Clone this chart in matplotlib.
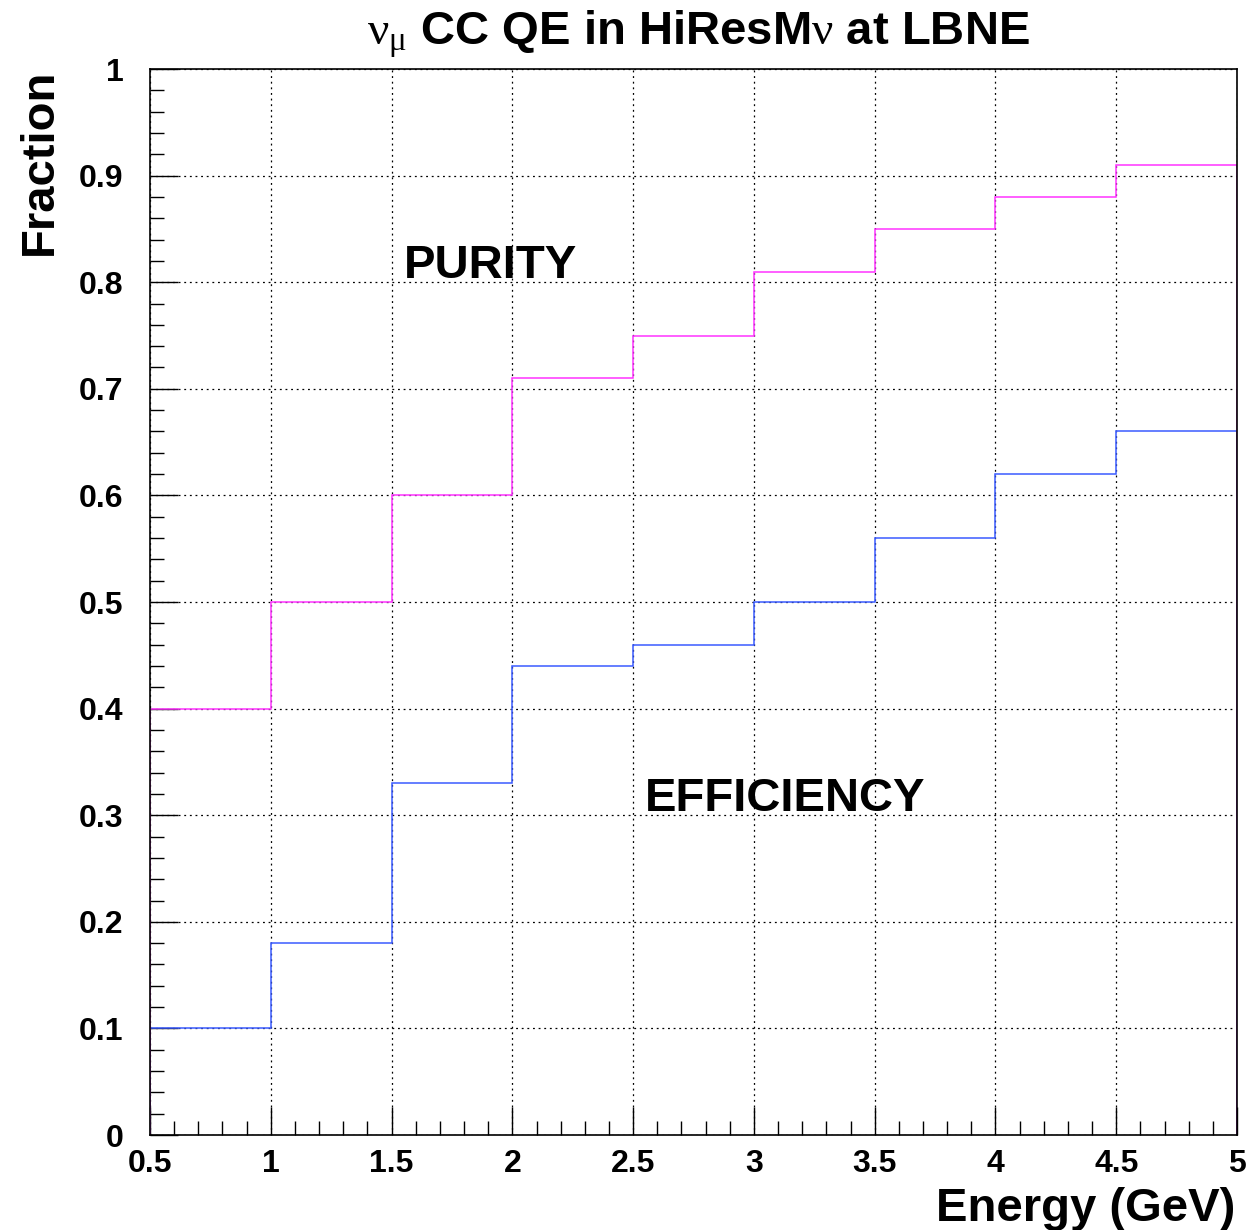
import numpy as np
import matplotlib.pyplot as plt
from matplotlib.ticker import MultipleLocator

# bin edges and fractions per energy bin
edges = [0.5, 1.0, 1.5, 2.0, 2.5, 3.0, 3.5, 4.0, 4.5, 5.0]
purity = [0.40, 0.50, 0.60, 0.71, 0.75, 0.81, 0.85, 0.88, 0.91]
efficiency = [0.10, 0.18, 0.33, 0.44, 0.46, 0.50, 0.56, 0.62, 0.66]

plt.rcParams['font.family'] = ['Liberation Sans', 'DejaVu Sans']
# upright Times-like greek for the neutrino symbols
plt.rcParams['mathtext.fontset'] = 'custom'
plt.rcParams['mathtext.rm'] = 'Liberation Serif'
plt.rcParams['mathtext.it'] = 'Liberation Serif'
plt.rcParams['mathtext.bf'] = 'Liberation Serif'

fig = plt.figure(figsize=(12.47, 12.30), dpi=100)
ax = fig.add_axes([0.1203, 0.0772, 0.8717, 0.8667])

ax.grid(True, which='major', color='black', linestyle=(0, (1.5, 3)), linewidth=0.9)
ax.set_axisbelow(True)

ax.stairs(efficiency, edges, baseline=0, color='#3a5bff', linewidth=1.1)
ax.stairs(purity, edges, baseline=0, color='#ff33ff', linewidth=1.1)

ax.set_xlim(0.5, 5.0)
ax.set_ylim(0, 1)
ax.xaxis.set_major_locator(MultipleLocator(0.5))
ax.xaxis.set_minor_locator(MultipleLocator(0.1))
ax.yaxis.set_major_locator(MultipleLocator(0.1))
ax.yaxis.set_minor_locator(MultipleLocator(0.02))
ax.xaxis.set_major_formatter(plt.FuncFormatter(lambda v, p: f"{v:g}"))
ax.yaxis.set_major_formatter(plt.FuncFormatter(lambda v, p: f"{v:g}"))

ax.tick_params(which='both', direction='in', top=False, right=False)
ax.tick_params(which='major', length=20, width=1.0, labelsize=23)
ax.tick_params(axis='x', which='major', pad=10)
ax.tick_params(axis='y', which='major', pad=19)
ax.tick_params(which='minor', length=10, width=1.0)
for lab in ax.get_xticklabels() + ax.get_yticklabels():
    lab.set_fontweight('bold')
for s in ax.spines.values():
    s.set_linewidth(1.2)

ax.text(1.55, 0.815, "PURITY", fontsize=34, fontweight='bold', va='center')
ax.text(2.55, 0.315, "EFFICIENCY", fontsize=34, fontweight='bold', va='center')

fig.text(0.56, 0.972, r"$\nu_{\mu}$ CC QE in HiResM$\nu$ at LBNE",
         fontsize=34, fontweight='bold', ha='center', va='center')
fig.text(0.991, 0.017, "Energy (GeV)", fontsize=34, fontweight='bold',
         ha='right', va='center')
fig.text(0.032, 0.944, "Fraction", fontsize=34, fontweight='bold',
         rotation=90, ha='center', va='top')

fig.savefig("out.png", dpi=100)
